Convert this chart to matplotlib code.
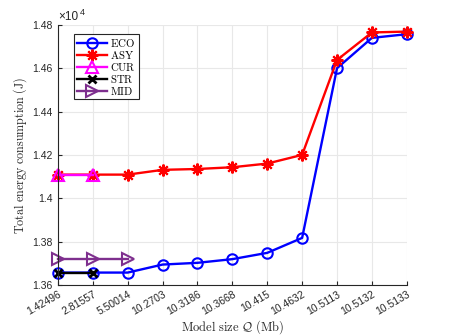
import matplotlib
matplotlib.use("Agg")
import matplotlib.pyplot as plt
import matplotlib.transforms as mtransforms
import numpy as np

labels = ["1.42496", "2.81557", "5.50014", "10.2703", "10.3186", "10.3668",
          "10.415", "10.4632", "10.5113", "10.5132", "10.5133"]
eco = [1.3657, 1.3657, 1.3657, 1.3694, 1.3702, 1.3719, 1.3748, 1.3817, 1.4600, 1.4740, 1.4757]
asy = [1.4109, 1.4109, 1.4109, 1.4131, 1.4135, 1.4143, 1.4160, 1.4200, 1.4638, 1.4765, 1.4769]
cur = [1.4109, 1.4109]
stra = [1.3657, 1.3657]
mid = [1.3718, 1.3718, 1.3718]
yticks = [1.36, 1.38, 1.40, 1.42, 1.44, 1.46, 1.48]
ytick_labels = ["1.36", "1.38", "1.4", "1.42", "1.44", "1.46", "1.48"]

plt.rcParams['mathtext.fontset'] = 'cm'
fig = plt.figure(figsize=(4.49, 3.36), dpi=100)
ax = fig.add_axes([0.129, 0.152, 0.777, 0.774])
x = np.arange(1, len(labels) + 1)
lw = 1.7
kw = dict(lw=lw, mew=1.5, mfc='none', clip_on=False)
ax.plot(x, eco, '-o', color='#0000ff', ms=7.5, label=r'$\mathrm{ECO}$', **kw)
ax.plot(x, asy, '-', marker=(8, 2, 0), color='#ff0000', ms=8.5, label=r'$\mathrm{ASY}$', **kw)
ax.plot(x[:len(cur)], cur, '-^', color='#ff00ff', ms=8, label=r'$\mathrm{CUR}$', **kw)
ax.plot(x[:len(stra)], stra, '-x', color='#000000', ms=5.5, label=r'$\mathrm{STR}$',
        lw=lw, mew=2.0, clip_on=False)
ax.plot(x[:len(mid)], mid, '->', color='#7e2f8e', ms=8, label=r'$\mathrm{MID}$', **kw)

ax.set_xlim(1, len(labels))
ax.set_ylim(1.36, 1.48)
ax.set_yticks(yticks)
ax.set_yticklabels(ytick_labels, family='Liberation Sans', fontsize=7.5)
ax.set_xticks(x)
ax.set_xticklabels(labels, rotation=30, ha='right', va='top', rotation_mode='anchor',
                   family='Liberation Sans', fontsize=7.5)
shift = mtransforms.ScaledTranslation(4.5 / 100, 0, fig.dpi_scale_trans)
for t in ax.get_xticklabels():
    t.set_transform(t.get_transform() + shift)
ax.grid(True, color='#e8e8e8', lw=0.8)
ax.set_axisbelow(True)
for s in ['top', 'right']:
    ax.spines[s].set_visible(False)
for s in ['left', 'bottom']:
    ax.spines[s].set_color('#262626')
    ax.spines[s].set_linewidth(0.8)
ax.tick_params(direction='in', length=3, color='#262626', labelcolor='#262626')
ax.tick_params(axis='x', pad=3)
ax.tick_params(axis='y', pad=4)
ax.annotate('×10', xy=(0, 1), xycoords='axes fraction', xytext=(0, 1.5),
            textcoords='offset points', fontsize=8.5, family='Liberation Sans',
            ha='left', va='bottom', color='#262626')
ax.annotate('4', xy=(0, 1), xycoords='axes fraction', xytext=(15.5, 6),
            textcoords='offset points', fontsize=6.5, family='Liberation Sans',
            ha='left', va='bottom', color='#262626')
ax.set_xlabel(r'$\mathrm{Model\ size\ }\mathcal{Q}\mathrm{\ (Mb)}$', fontsize=9,
              labelpad=1, color='#262626')
ax.set_ylabel(r'$\mathrm{Total\ energy\ consumption\ (J)}$', fontsize=8.7,
              labelpad=2, color='#262626')
leg = ax.legend(loc='upper left', bbox_to_anchor=(0.046, 0.965), borderaxespad=0,
                prop={'size': 7.8}, fancybox=False, edgecolor='#262626', framealpha=1,
                handlelength=2.8, borderpad=0.25, labelspacing=0.0, handletextpad=0.3)
leg.get_frame().set_linewidth(0.8)
fig.savefig('out.png', dpi=100)
